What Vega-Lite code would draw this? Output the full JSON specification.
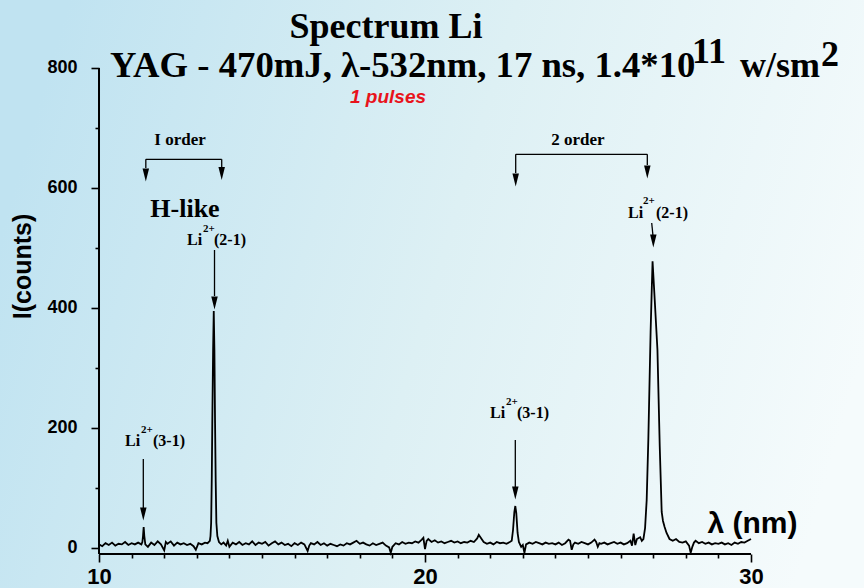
{
  "$schema": "https://vega.github.io/schema/vega-lite/v6.json",
  "width": 864,
  "height": 588,
  "padding": 0,
  "autosize": {"type": "none"},
  "background": "#dcf0f5",
  "config": {
    "view": {
      "stroke": null,
      "fill": {"gradient": "linear", "x1": 0, "y1": 0.4, "x2": 1, "y2": 0.6,
        "stops": [{"offset": 0, "color": "#c0e3f1"}, {"offset": 0.5, "color": "#ddf0f4"}, {"offset": 1, "color": "#f5fbfc"}]}
    }
  },
  "encoding": {
    "x": {
      "field": "x", "type": "quantitative",
      "scale": {"domain": [6.963, 33.466], "nice": false, "zero": false},
      "axis": {
        "values": [10,11,12,13,14,15,16,17,18,19,20,21,22,23,24,25,26,27,28,29,30],
        "labelExpr": "datum.value % 10 === 0 ? datum.label : ''",
        "domain": false, "grid": false, "offset": -34,
        "tickColor": "black", "tickWidth": 1.6,
        "tickSize": {"condition": {"test": "datum.value % 10 === 0", "value": 8}, "value": 4},
        "labelFont": "Liberation Sans", "labelFontWeight": "bold", "labelFontSize": 22, "labelColor": "black",
        "labelPadding": 4, "labelFlush": false, "labelOverlap": false,
        "title": "λ (nm)", "titleFont": "Liberation Sans", "titleFontWeight": "bold", "titleFontSize": 30, "titleColor": "black",
        "titleX": 752, "titleY": -31, "titleAlign": "center", "titleBaseline": "middle"
      }
    },
    "y": {
      "field": "y", "type": "quantitative",
      "scale": {"domain": [-66.667, 913.333], "nice": false, "zero": false},
      "axis": {
        "values": [0,100,200,300,400,500,600,700,800],
        "labelExpr": "datum.value % 200 === 0 ? datum.label : ''",
        "domain": false, "grid": false, "offset": -99,
        "tickColor": "black", "tickWidth": 1.6,
        "tickSize": {"condition": {"test": "datum.value % 200 === 0", "value": 8}, "value": 4},
        "labelFont": "Liberation Sans", "labelFontWeight": "bold", "labelFontSize": 18, "labelColor": "black",
        "labelPadding": 14, "labelFlush": false, "labelOverlap": false,
        "title": "I(counts)", "titleFont": "Liberation Sans", "titleFontWeight": "bold", "titleFontSize": 25, "titleColor": "black",
        "titleX": -77, "titleY": 266, "titleAngle": 270, "titleAlign": "center", "titleBaseline": "middle"
      }
    }
  },
  "layer": [
    {
      "data": {"values": [
        {"x":10.0,"y":6},{"x":10.1,"y":3},{"x":10.2,"y":8},{"x":10.3,"y":5},{"x":10.4,"y":9},{"x":10.5,"y":4},{"x":10.6,"y":7},{"x":10.7,"y":6},{"x":10.8,"y":10},{"x":10.9,"y":5},
        {"x":11.0,"y":8},{"x":11.1,"y":6},{"x":11.2,"y":9},{"x":11.3,"y":6},{"x":11.33,"y":10},{"x":11.35,"y":20},{"x":11.37,"y":35},{"x":11.39,"y":20},{"x":11.42,"y":6},{"x":11.5,"y":2},
        {"x":11.6,"y":9},{"x":11.7,"y":5},{"x":11.8,"y":11},{"x":11.9,"y":6},{"x":12.0,"y":-4},{"x":12.05,"y":10},{"x":12.1,"y":7},{"x":12.2,"y":11},{"x":12.3,"y":4},{"x":12.4,"y":9},
        {"x":12.5,"y":6},{"x":12.6,"y":8},{"x":12.7,"y":5},{"x":12.8,"y":7},{"x":12.9,"y":3},{"x":12.97,"y":-3},{"x":13.05,"y":8},{"x":13.15,"y":6},{"x":13.25,"y":9},{"x":13.33,"y":8},
        {"x":13.40,"y":12},{"x":13.42,"y":20},{"x":13.44,"y":42},{"x":13.46,"y":120},{"x":13.475,"y":208},{"x":13.50,"y":330},{"x":13.52,"y":395},{"x":13.54,"y":330},{"x":13.56,"y":208},{"x":13.58,"y":110},
        {"x":13.60,"y":42},{"x":13.63,"y":20},{"x":13.68,"y":10},{"x":13.75,"y":6},{"x":13.82,"y":9},{"x":13.9,"y":4},{"x":13.95,"y":12},{"x":14.0,"y":2},{"x":14.1,"y":9},{"x":14.2,"y":6},
        {"x":14.3,"y":10},{"x":14.4,"y":5},{"x":14.5,"y":8},{"x":14.6,"y":6},{"x":14.7,"y":11},{"x":14.8,"y":5},{"x":14.9,"y":9},{"x":15.0,"y":7},{"x":15.1,"y":10},{"x":15.2,"y":4},
        {"x":15.3,"y":8},{"x":15.4,"y":11},{"x":15.5,"y":6},{"x":15.6,"y":9},{"x":15.7,"y":5},{"x":15.8,"y":7},{"x":15.9,"y":3},{"x":16.0,"y":8},{"x":16.1,"y":5},{"x":16.2,"y":9},
        {"x":16.3,"y":6},{"x":16.4,"y":-5},{"x":16.45,"y":4},{"x":16.5,"y":8},{"x":16.6,"y":6},{"x":16.7,"y":10},{"x":16.8,"y":5},{"x":16.9,"y":8},{"x":17.0,"y":4},{"x":17.1,"y":7},
        {"x":17.2,"y":5},{"x":17.3,"y":3},{"x":17.4,"y":6},{"x":17.5,"y":4},{"x":17.6,"y":8},{"x":17.7,"y":6},{"x":17.8,"y":9},{"x":17.9,"y":12},{"x":18.0,"y":7},{"x":18.1,"y":9},
        {"x":18.2,"y":6},{"x":18.3,"y":4},{"x":18.4,"y":8},{"x":18.5,"y":5},{"x":18.6,"y":7},{"x":18.7,"y":9},{"x":18.8,"y":4},{"x":18.9,"y":1},{"x":18.95,"y":-8},{"x":19.0,"y":2},
        {"x":19.1,"y":8},{"x":19.2,"y":6},{"x":19.3,"y":10},{"x":19.4,"y":7},{"x":19.5,"y":9},{"x":19.6,"y":8},{"x":19.7,"y":11},{"x":19.8,"y":9},{"x":19.9,"y":14},{"x":19.95,"y":17},
        {"x":20.0,"y":-2},{"x":20.05,"y":12},{"x":20.1,"y":15},{"x":20.2,"y":10},{"x":20.3,"y":13},{"x":20.4,"y":9},{"x":20.5,"y":11},{"x":20.6,"y":8},{"x":20.7,"y":10},{"x":20.8,"y":12},
        {"x":20.9,"y":9},{"x":21.0,"y":11},{"x":21.1,"y":8},{"x":21.2,"y":10},{"x":21.3,"y":9},{"x":21.4,"y":12},{"x":21.5,"y":10},{"x":21.6,"y":16},{"x":21.65,"y":22},{"x":21.7,"y":18},
        {"x":21.8,"y":10},{"x":21.9,"y":7},{"x":22.0,"y":9},{"x":22.1,"y":6},{"x":22.2,"y":10},{"x":22.3,"y":8},{"x":22.4,"y":9},{"x":22.5,"y":7},{"x":22.6,"y":10},{"x":22.66,"y":12},
        {"x":22.70,"y":30},{"x":22.74,"y":60},{"x":22.77,"y":70},{"x":22.80,"y":58},{"x":22.84,"y":25},{"x":22.88,"y":10},{"x":22.95,"y":2},{"x":23.0,"y":5},{"x":23.05,"y":-8},{"x":23.1,"y":6},
        {"x":23.2,"y":9},{"x":23.3,"y":7},{"x":23.4,"y":10},{"x":23.5,"y":8},{"x":23.6,"y":6},{"x":23.7,"y":9},{"x":23.8,"y":7},{"x":23.9,"y":8},{"x":24.0,"y":6},{"x":24.1,"y":9},
        {"x":24.2,"y":5},{"x":24.3,"y":8},{"x":24.4,"y":14},{"x":24.45,"y":12},{"x":24.5,"y":-3},{"x":24.55,"y":6},{"x":24.6,"y":9},{"x":24.7,"y":7},{"x":24.8,"y":10},{"x":24.9,"y":8},
        {"x":25.0,"y":6},{"x":25.1,"y":9},{"x":25.2,"y":14},{"x":25.25,"y":10},{"x":25.3,"y":2},{"x":25.35,"y":8},{"x":25.4,"y":7},{"x":25.5,"y":9},{"x":25.6,"y":6},{"x":25.7,"y":8},
        {"x":25.8,"y":10},{"x":25.9,"y":7},{"x":26.0,"y":9},{"x":26.1,"y":6},{"x":26.2,"y":8},{"x":26.3,"y":12},{"x":26.35,"y":4},{"x":26.4,"y":24},{"x":26.45,"y":5},{"x":26.5,"y":15},
        {"x":26.6,"y":18},{"x":26.65,"y":12},{"x":26.70,"y":15},{"x":26.75,"y":33},{"x":26.80,"y":80},{"x":26.85,"y":180},{"x":26.92,"y":360},{"x":26.95,"y":420},{"x":26.98,"y":478},{"x":27.05,"y":410},
        {"x":27.13,"y":330},{"x":27.2,"y":170},{"x":27.26,"y":60},{"x":27.3,"y":45},{"x":27.35,"y":35},{"x":27.41,"y":25},{"x":27.5,"y":15},{"x":27.6,"y":12},{"x":27.7,"y":15},
        {"x":27.8,"y":10},{"x":27.9,"y":9},{"x":28.0,"y":11},{"x":28.1,"y":4},{"x":28.15,"y":-8},{"x":28.2,"y":2},{"x":28.25,"y":9},{"x":28.3,"y":12},{"x":28.4,"y":8},{"x":28.5,"y":10},
        {"x":28.6,"y":7},{"x":28.7,"y":9},{"x":28.8,"y":6},{"x":28.9,"y":8},{"x":29.0,"y":7},{"x":29.1,"y":9},{"x":29.2,"y":6},{"x":29.3,"y":8},{"x":29.4,"y":5},{"x":29.5,"y":9},
        {"x":29.6,"y":7},{"x":29.7,"y":10},{"x":29.8,"y":9},{"x":29.9,"y":12},{"x":30.0,"y":15}
      ]},
      "mark": {"type": "line", "color": "black", "strokeWidth": 1.8}
    },
    {
      "data": {"values": [
        {"x": 10, "y": -10, "x2": 30, "y2": -10},
        {"x": 10, "y": -10, "x2": 10, "y2": 800}
      ]},
      "mark": {"type": "rule", "color": "black", "strokeWidth": 2},
      "encoding": {"x2": {"field": "x2"}, "y2": {"field": "y2"}}
    },
    {
      "data": {"values": [
        {"x": 11.436, "y": 647.8, "x2": 13.764, "y2": 647.8},
        {"x": 11.436, "y": 647.8, "x2": 11.436, "y2": 633.3},
        {"x": 13.764, "y": 647.8, "x2": 13.764, "y2": 635},
        {"x": 22.782, "y": 656.2, "x2": 26.819, "y2": 656.2},
        {"x": 22.782, "y": 656.2, "x2": 22.782, "y2": 625},
        {"x": 26.819, "y": 656.2, "x2": 26.819, "y2": 638.3},
        {"x": 11.359, "y": 148.3, "x2": 11.359, "y2": 66.7},
        {"x": 13.543, "y": 496.7, "x2": 13.543, "y2": 420},
        {"x": 22.77, "y": 180, "x2": 22.77, "y2": 101.7},
        {"x": 26.954, "y": 541.7, "x2": 26.994, "y2": 520}
      ]},
      "mark": {"type": "rule", "color": "black", "strokeWidth": 1.3},
      "encoding": {"x2": {"field": "x2"}, "y2": {"field": "y2"}}
    },
    {
      "data": {"values": [
        {"x": 11.436, "y": 621.7}, {"x": 13.764, "y": 624.2}, {"x": 22.782, "y": 613.3}, {"x": 26.819, "y": 626.7},
        {"x": 11.359, "y": 56.7}, {"x": 13.543, "y": 408.3}, {"x": 22.77, "y": 91.7}, {"x": 27.003, "y": 511.7}
      ]},
      "mark": {"type": "point", "shape": "M-0.5,-1L0.5,-1L0,1Z", "filled": true, "color": "black", "size": 169, "opacity": 1}
    },
    {
      "data": {"values": [{"x": 18.804, "y": 850, "t": "Spectrum Li"}]},
      "mark": {"type": "text", "font": "Liberation Serif", "fontWeight": "bold", "fontSize": 36, "color": "black", "align": "center", "baseline": "alphabetic"},
      "encoding": {"text": {"field": "t"}}
    },
    {
      "data": {"values": [
        {"x": 10.337, "y": 785, "t": "YAG - 470mJ,  λ-532nm, 17 ns, 1.4*10"}
      ]},
      "mark": {"type": "text", "font": "Liberation Serif", "fontWeight": "bold", "fontSize": 36.7, "color": "black", "align": "left", "baseline": "alphabetic"},
      "encoding": {"text": {"field": "t"}}
    },
    {
      "data": {"values": [
        {"x": 29.663, "y": 785, "t": "w/sm"},
        {"x": 28.19, "y": 808.3, "t": "11"},
        {"x": 32.147, "y": 803.3, "t": "2"}
      ]},
      "mark": {"type": "text", "font": "Liberation Serif", "fontWeight": "bold", "fontSize": 36, "color": "black", "align": "left", "baseline": "alphabetic"},
      "encoding": {"text": {"field": "t"}}
    },
    {
      "data": {"values": [{"x": 18.865, "y": 751.7, "t": "1 pulses"}]},
      "mark": {"type": "text", "font": "Liberation Sans", "fontWeight": "bold", "fontStyle": "italic", "fontSize": 19, "color": "#e8131b", "align": "center", "baseline": "middle"},
      "encoding": {"text": {"field": "t"}}
    },
    {
      "data": {"values": [{"x": 12.485, "y": 680, "t": "I order"}, {"x": 24.693, "y": 680.8, "t": "2 order"}]},
      "mark": {"type": "text", "font": "Liberation Serif", "fontWeight": "bold", "fontSize": 17, "color": "black", "align": "center", "baseline": "middle"},
      "encoding": {"text": {"field": "t"}}
    },
    {
      "data": {"values": [{"x": 12.638, "y": 565, "t": "H-like"}]},
      "mark": {"type": "text", "font": "Liberation Serif", "fontWeight": "bold", "fontSize": 26, "color": "black", "align": "center", "baseline": "middle"},
      "encoding": {"text": {"field": "t"}}
    },
    {
      "data": {"values": [
        {"x": 10.798, "y": 170, "t": "Li"}, {"x": 11.656, "y": 170, "t": "(3-1)"},
        {"x": 12.699, "y": 505, "t": "Li"}, {"x": 13.528, "y": 505, "t": "(2-1)"},
        {"x": 21.994, "y": 216.7, "t": "Li"}, {"x": 22.822, "y": 216.7, "t": "(3-1)"},
        {"x": 26.227, "y": 550, "t": "Li"}, {"x": 27.086, "y": 550, "t": "(2-1)"}
      ]},
      "mark": {"type": "text", "font": "Liberation Serif", "fontWeight": "bold", "fontSize": 16, "color": "black", "align": "left", "baseline": "alphabetic"},
      "encoding": {"text": {"field": "t"}}
    },
    {
      "data": {"values": [
        {"x": 11.288, "y": 191.7, "t": "2+"}, {"x": 13.19, "y": 526.7, "t": "2+"},
        {"x": 22.485, "y": 238.3, "t": "2+"}, {"x": 26.687, "y": 573.3, "t": "2+"}
      ]},
      "mark": {"type": "text", "font": "Liberation Serif", "fontWeight": "bold", "fontSize": 11, "color": "black", "align": "left", "baseline": "alphabetic"},
      "encoding": {"text": {"field": "t"}}
    }
  ]
}
